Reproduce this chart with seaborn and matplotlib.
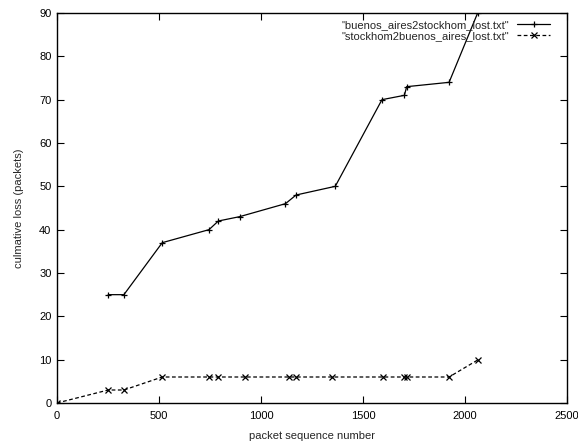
import matplotlib
matplotlib.use("Agg")
import matplotlib.pyplot as plt
import seaborn as sns
import pandas as pd

ba_x = [251, 328, 516, 745, 791, 895, 1120, 1172, 1364, 1593, 1703, 1714, 1922, 2062]
ba_y = [25, 25, 37, 40, 42, 43, 46, 48, 50, 70, 71, 73, 74, 90]
st_x = [0, 251, 328, 516, 745, 791, 920, 1137, 1170, 1350, 1600, 1703, 1714, 1922, 2065]
st_y = [0, 3, 3, 6, 6, 6, 6, 6, 6, 6, 6, 6, 6, 6, 10]
labels = ['"buenos_aires2stockhom_lost.txt"', '"stockhom2buenos_aires_lost.txt"']

sns.set_style("ticks")
plt.rcParams['font.family'] = ['Liberation Sans', 'DejaVu Sans']
FS = 8

fig = plt.figure(figsize=(5.78, 4.43), dpi=100)
ax = fig.add_axes([57/578, 1 - 403/443, (567-57)/578, (403-13)/443])

df1 = pd.DataFrame({"x": ba_x, "y": ba_y})
df2 = pd.DataFrame({"x": st_x, "y": st_y})
sns.lineplot(data=df1, x="x", y="y", ax=ax, color="black", lw=0.9, marker="+",
             markersize=5, markeredgewidth=0.9, markeredgecolor="black",
             markerfacecolor="black", label=labels[0], sort=False)
sns.lineplot(data=df2, x="x", y="y", ax=ax, color="black", lw=0.9, marker="x",
             markersize=4, markeredgewidth=0.9, markeredgecolor="black",
             markerfacecolor="black", label=labels[1], linestyle=(0, (3, 2)),
             sort=False)

ax.set_xlim(0, 2500)
ax.set_ylim(0, 90)
ax.set_xticks([0, 500, 1000, 1500, 2000, 2500])
ax.set_yticks(range(0, 91, 10))
ax.tick_params(direction="in", top=True, right=True, length=5, width=0.8,
               labelsize=FS, colors="black")
ax.tick_params(axis="x", pad=6)
ax.tick_params(axis="y", pad=4)
for s in ax.spines.values():
    s.set_linewidth(1.0)
    s.set_color("black")
ax.set_xlabel("packet sequence number", fontsize=FS, labelpad=7)
ax.set_ylabel("culmative loss (packets)", fontsize=FS, labelpad=11)

leg = ax.legend(loc="upper right", bbox_to_anchor=(1 - 10/510, 1), frameon=False,
                markerfirst=False, fontsize=FS, handlelength=3.0, borderaxespad=0.2,
                labelspacing=0.1, handletextpad=0.7, alignment="right")
for t in leg.get_texts():
    t.set_ha("right")
leg._legend_box.align = "right"

fig.savefig("out.png", dpi=100)
